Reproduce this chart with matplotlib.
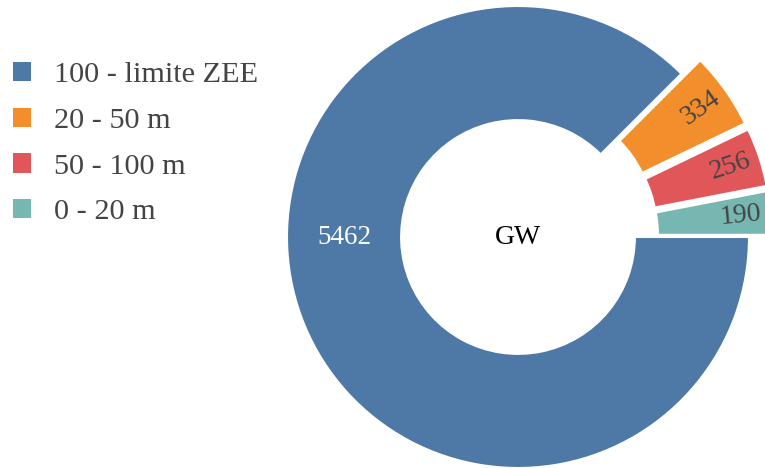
import matplotlib.pyplot as plt
import numpy as np
from matplotlib.patches import Patch

plt.rcParams['font.family'] = ['Liberation Serif', 'DejaVu Serif']

# data (plotting order: counter-clockwise from 3 o'clock)
labels = ['0 - 20 m', '50 - 100 m', '20 - 50 m', '100 - limite ZEE']
values = [190, 256, 334, 5462]
colors = ['#76b7b2', '#e15759', '#f28e2b', '#4e79a7']
explode = [0.1, 0.1, 0.1, 0.0]
legend_order = ['100 - limite ZEE', '20 - 50 m', '50 - 100 m', '0 - 20 m']

R_PX = 231.0
CX, CY = 518.0, 237.0
HOLE = 0.506

fig = plt.figure(figsize=(7.65, 4.68), dpi=100)
ax = fig.add_axes([0, 0, 1, 1])

wedges, _ = ax.pie(values, colors=colors, explode=explode, startangle=0,
                   counterclock=True, radius=1.0,
                   wedgeprops=dict(width=1 - HOLE, edgecolor='white', linewidth=1.5))

total = sum(values)
start = 0.0
for v, e, c in zip(values, explode, colors):
    frac = v / total
    mid = start + frac * 180.0
    start += frac * 360.0
    if e > 0:
        r = e + 0.87
        x, y = r * np.cos(np.radians(mid)), r * np.sin(np.radians(mid))
        ax.text(x, y, str(v), ha='center', va='center', rotation=mid,
                rotation_mode='anchor', fontsize=20, color='#444444')
    else:
        r = (1 + HOLE) / 2
        ax.text(-r, 0, str(v), ha='center', va='center', fontsize=19.5,
                color='white')

ax.text(0, 0, 'GW', ha='center', va='center', fontsize=20, color='black')

ax.set_xlim(-CX / R_PX, (765 - CX) / R_PX)
ax.set_ylim(-(468 - CY) / R_PX, CY / R_PX)
ax.set_aspect('equal')
ax.axis('off')

handles = [Patch(facecolor=colors[labels.index(l)], edgecolor='none') for l in legend_order]
fig.legend(handles, legend_order, loc='upper left', bbox_to_anchor=(13 / 765, 1 - 62 / 468),
           frameon=False, fontsize=21.8, handlelength=0.6, handleheight=0.6,
           handletextpad=0.75, labelspacing=0.64, labelcolor='#444444',
           borderaxespad=0, borderpad=0)

fig.savefig('out.png', dpi=100)
